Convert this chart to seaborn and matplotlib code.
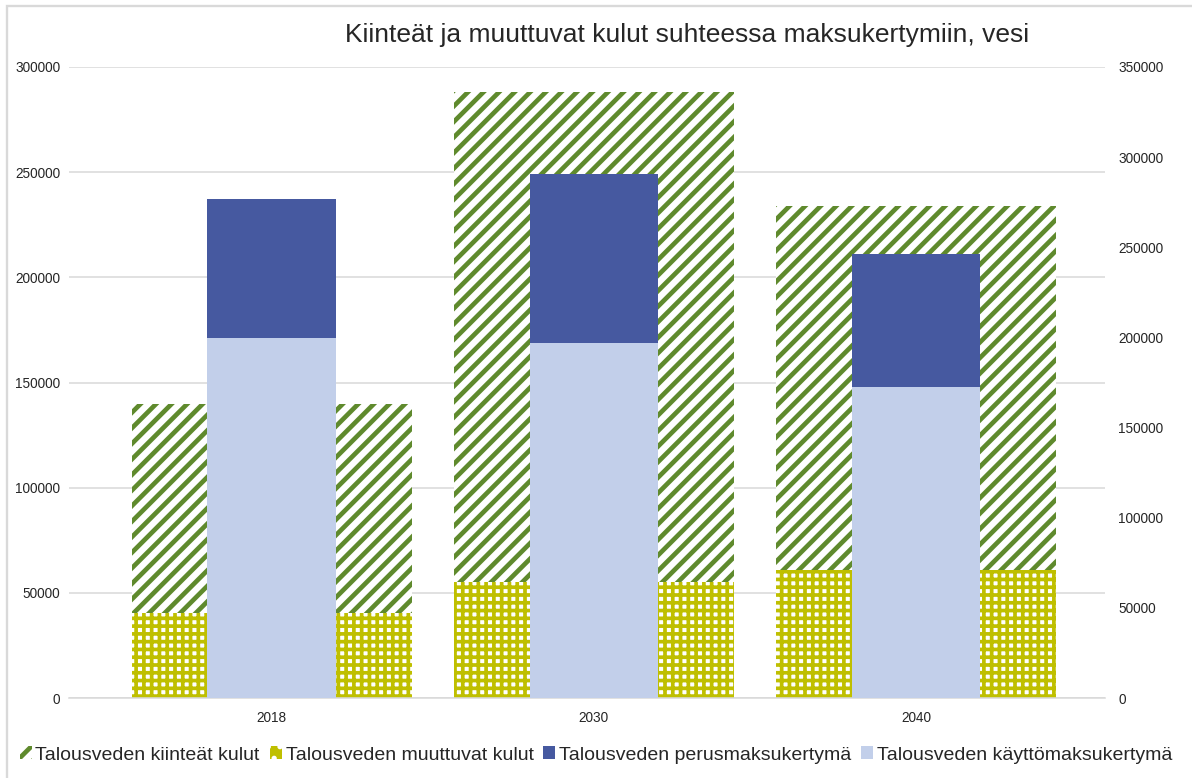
import matplotlib
matplotlib.use("Agg")
import numpy as np
import pandas as pd
import matplotlib.pyplot as plt
import seaborn as sns
from matplotlib.patches import Patch, Rectangle

# arvot luettu kuvasta
vuodet = ["2018", "2030", "2040"]
kiinteat_kulut = [99400, 232900, 173000]
muuttuvat_kulut = [40400, 55200, 60900]
perusmaksukertyma = [77100, 93700, 73800]
kayttomaksukertyma = [199700, 196900, 172500]

otsikko = "Kiinteät ja muuttuvat kulut suhteessa maksukertymiin, vesi"
selitteet = ["Talousveden kiinteät kulut", "Talousveden muuttuvat kulut",
             "Talousveden perusmaksukertymä", "Talousveden käyttömaksukertymä"]

vihrea = "#5F8A2D"
keltainen = "#BFBF00"
tummansininen = "#4659A0"
vaaleansininen = "#C2CFEA"
harmaa = "#D9D9D9"
teksti = "#262626"

df = pd.DataFrame({
    "vuosi": vuodet,
    "kiinteat": kiinteat_kulut,
    "muuttuvat": muuttuvat_kulut,
    "perus": perusmaksukertyma,
    "kaytto": kayttomaksukertyma,
})
df["kulut_yht"] = df["kiinteat"] + df["muuttuvat"]
df["kertyma_yht"] = df["perus"] + df["kaytto"]

sns.set_theme(style="white")
plt.rcParams["font.family"] = ["Liberation Sans", "DejaVu Sans"]
plt.rcParams["hatch.linewidth"] = 2.4

dpi = 140
fig = plt.figure(figsize=(1192 / dpi, 778 / dpi), dpi=dpi)
ax = fig.add_axes([69 / 1192, 1 - 698 / 778, (1105 - 69) / 1192, (698 - 67) / 778])
ax2 = ax.twinx()

# leveät pylväät, vasen akseli
sns.barplot(data=df, x="vuosi", y="kulut_yht", ax=ax, color="white", edgecolor=vihrea,
            hatch="///", linewidth=0, width=0.87, saturation=1, errorbar=None)
n_raidat = len(ax.patches)
sns.barplot(data=df, x="vuosi", y="muuttuvat", ax=ax, color="white", edgecolor=keltainen,
            hatch="+++", linewidth=0, width=0.87, saturation=1, errorbar=None)
for p in ax.patches[n_raidat:]:
    if hasattr(p, "set_hatch_linewidth"):
        p.set_hatch_linewidth(1.9)

# kapeat pylväät, oikea akseli
sns.barplot(data=df, x="vuosi", y="kertyma_yht", ax=ax2, color=tummansininen,
            linewidth=0, width=0.40, saturation=1, errorbar=None)
sns.barplot(data=df, x="vuosi", y="kaytto", ax=ax2, color=vaaleansininen,
            linewidth=0, width=0.40, saturation=1, errorbar=None)

for a in (ax, ax2):
    a.set_xlim(-0.63, 2.587)
    a.set_xlabel("")
    a.set_ylabel("")
    for s in a.spines.values():
        s.set_visible(False)

ax.set_ylim(0, 300000)
ax.set_yticks(np.arange(0, 300001, 50000))
ax2.set_ylim(0, 350000)
ax2.set_yticks(np.arange(0, 350001, 50000))
ax2.grid(False)

ax.set_axisbelow(True)
ax.yaxis.grid(True, color=harmaa, linewidth=0.8)
ax.xaxis.grid(False)
ax.spines["bottom"].set_visible(True)
ax.spines["bottom"].set_color(harmaa)
ax.spines["bottom"].set_linewidth(0.8)

ax.tick_params(axis="y", length=0, pad=4.5, labelsize=7.0, labelcolor=teksti)
ax.tick_params(axis="x", length=0, pad=6.5, labelsize=7.0, labelcolor=teksti)
ax2.tick_params(axis="y", length=0, pad=6.7, labelsize=7.0, labelcolor=teksti)
ax2.tick_params(axis="x", length=0, labelbottom=False)

fig.text(687 / 1192, 1 - 35 / 778, otsikko, ha="center", va="center",
         fontsize=13.6, color=teksti)

kahvat = [
    Patch(facecolor="white", edgecolor=vihrea, hatch="///", linewidth=0),
    Patch(facecolor=keltainen, edgecolor="white", hatch="..", linewidth=0),
    Patch(facecolor=tummansininen, linewidth=0),
    Patch(facecolor=vaaleansininen, linewidth=0),
]
leg = fig.legend(kahvat, selitteet, loc="center", bbox_to_anchor=(0.5, 1 - 755 / 778),
                 ncol=4, frameon=False, fontsize=10.0, handlelength=0.62, handleheight=0.62,
                 handletextpad=0.2, columnspacing=0.5, labelcolor=teksti)
for h in leg.get_patches()[1:2]:
    if hasattr(h, "set_hatch_linewidth"):
        h.set_hatch_linewidth(1.5)

fig.patches.append(Rectangle((7 / 1192, -0.05), 1.1, 1 - 6 / 778 + 0.05,
                             transform=fig.transFigure, fill=False,
                             edgecolor=harmaa, linewidth=1.2))

fig.savefig("out.png", dpi=dpi)
